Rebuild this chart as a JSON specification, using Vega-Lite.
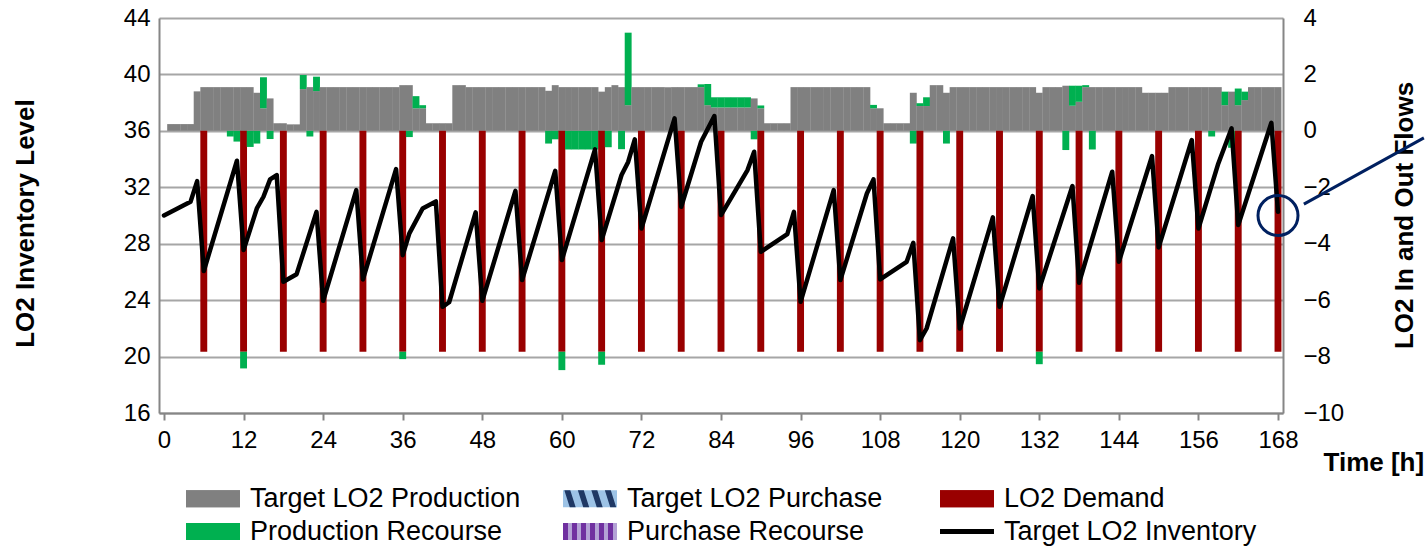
{
  "$schema": "https://vega.github.io/schema/vega-lite/v6.json",
  "width": 1124,
  "height": 395,
  "autosize": {"type": "none"},
  "padding": {"left": 159, "top": 18, "right": 142, "bottom": 134},
  "background": "white",
  "config": {
    "font": "Liberation Sans",
    "view": {"stroke": null},
    "axis": {
      "labelFont": "Liberation Sans", "titleFont": "Liberation Sans",
      "labelFontSize": 24, "titleFontSize": 26, "titleFontWeight": "bold",
      "labelColor": "#000000", "titleColor": "#000000",
      "domainColor": "#868686", "domainWidth": 2,
      "tickColor": "#868686", "tickWidth": 2,
      "gridColor": "#a6a6a6", "gridWidth": 2
    },
    "legend": {"labelFont": "Liberation Sans"}
  },
  "datasets": {
    "bars": [
      {"h":1,"prod":0.24},{"h":2,"prod":0.24},{"h":3,"prod":0.24},{"h":4,"prod":0.24},{"h":5,"prod":1.4},
      {"h":6,"prod":1.55,"dem":-7.83},{"h":7,"prod":1.55},{"h":8,"prod":1.55},{"h":9,"prod":1.55},
      {"h":10,"prod":1.55,"rec":-0.2},{"h":11,"prod":1.55,"rec":-0.38},{"h":12,"prod":1.55,"dem":-7.83,"rec":-0.59},
      {"h":13,"prod":1.55,"rec":-0.57},{"h":14,"prod":1.35,"rec":-0.45},{"h":15,"prod":0.8,"rec":1.1},
      {"h":16,"prod":1.15,"rec":-0.29},{"h":17,"prod":0.27},{"h":18,"prod":0.27,"dem":-7.83},
      {"h":19,"prod":0.23},{"h":20,"prod":0.23},{"h":21,"prod":1.48,"rec":0.5},{"h":22,"prod":1.55,"rec":-0.2},
      {"h":23,"prod":1.41,"rec":0.51},{"h":24,"prod":1.55,"dem":-7.83},
      {"h":25,"prod":1.55},{"h":26,"prod":1.55},{"h":27,"prod":1.55},{"h":28,"prod":1.55},{"h":29,"prod":1.55},
      {"h":30,"prod":1.55,"dem":-7.83},{"h":31,"prod":1.55},{"h":32,"prod":1.55},{"h":33,"prod":1.55},{"h":34,"prod":1.55},{"h":35,"prod":1.55},
      {"h":36,"prod":1.62,"dem":-7.83,"rec":-0.26},{"h":37,"prod":1.62,"rec":-0.22},{"h":38,"prod":0.8,"rec":0.43},
      {"h":39,"prod":0.8,"rec":0.11},{"h":40,"prod":0.27},{"h":41,"prod":0.27},{"h":42,"prod":0.27,"dem":-7.83},
      {"h":43,"prod":0.27},{"h":44,"prod":1.62},{"h":45,"prod":1.62},
      {"h":46,"prod":1.55},{"h":47,"prod":1.55},{"h":48,"prod":1.55,"dem":-7.83},{"h":49,"prod":1.55},{"h":50,"prod":1.55},
      {"h":51,"prod":1.55},{"h":52,"prod":1.55},{"h":53,"prod":1.55},{"h":54,"prod":1.55,"dem":-7.83},{"h":55,"prod":1.55},
      {"h":56,"prod":1.55},{"h":57,"prod":1.55},{"h":58,"prod":1.42,"rec":-0.45},{"h":59,"prod":1.62,"rec":-0.3},
      {"h":60,"prod":1.55,"dem":-7.83,"rec":-0.65},{"h":61,"prod":1.55,"rec":-0.66},{"h":62,"prod":1.55,"rec":-0.66},
      {"h":63,"prod":1.55,"rec":-0.66},{"h":64,"prod":1.55,"rec":-0.66},{"h":65,"prod":1.55,"rec":-0.66},
      {"h":66,"prod":1.39,"dem":-7.83,"rec":-0.46},{"h":67,"prod":1.55,"rec":-0.58},{"h":68,"prod":1.62},
      {"h":69,"prod":1.55,"rec":-0.65},{"h":70,"prod":0.91,"rec":2.57},
      {"h":71,"prod":1.55},{"h":72,"prod":1.55,"dem":-7.83},{"h":73,"prod":1.55},{"h":74,"prod":1.55},{"h":75,"prod":1.55},
      {"h":76,"prod":1.55},{"h":77,"prod":1.55},{"h":78,"prod":1.55,"dem":-7.83},{"h":79,"prod":1.55},{"h":80,"prod":1.55},
      {"h":81,"prod":1.55,"rec":0.1},{"h":82,"prod":0.91,"rec":0.75},{"h":83,"prod":0.83,"rec":0.36},
      {"h":84,"prod":0.83,"dem":-7.83,"rec":0.36},{"h":85,"prod":0.83,"rec":0.36},{"h":86,"prod":0.83,"rec":0.36},
      {"h":87,"prod":0.83,"rec":0.36},{"h":88,"prod":0.83,"rec":0.36},{"h":89,"prod":1.15,"rec":-0.3},
      {"h":90,"prod":0.8,"dem":-7.83,"rec":0.1},{"h":91,"prod":0.27},{"h":92,"prod":0.27},{"h":93,"prod":0.27},{"h":94,"prod":0.27},
      {"h":95,"prod":1.55},{"h":96,"prod":1.55,"dem":-7.83},{"h":97,"prod":1.55},{"h":98,"prod":1.55},{"h":99,"prod":1.55},
      {"h":100,"prod":1.55},{"h":101,"prod":1.55},{"h":102,"prod":1.55,"dem":-7.83},{"h":103,"prod":1.55},{"h":104,"prod":1.55},
      {"h":105,"prod":1.55},{"h":106,"prod":1.55},{"h":107,"prod":0.8,"rec":0.12},{"h":108,"prod":0.8,"dem":-7.83},
      {"h":109,"prod":0.27},{"h":110,"prod":0.27},{"h":111,"prod":0.27},{"h":112,"prod":0.27},
      {"h":113,"prod":1.35,"rec":-0.45},{"h":114,"prod":0.88,"dem":-7.83,"rec":0.1},{"h":115,"prod":0.88,"rec":0.31},
      {"h":116,"prod":1.62},{"h":117,"prod":1.62},{"h":118,"prod":1.35,"rec":-0.45},
      {"h":119,"prod":1.55},{"h":120,"prod":1.55,"dem":-7.83},{"h":121,"prod":1.55},{"h":122,"prod":1.55},{"h":123,"prod":1.55},
      {"h":124,"prod":1.55},{"h":125,"prod":1.55},{"h":126,"prod":1.55,"dem":-7.83},{"h":127,"prod":1.55},{"h":128,"prod":1.55},
      {"h":129,"prod":1.55},{"h":130,"prod":1.55},{"h":131,"prod":1.55},{"h":132,"prod":1.35,"dem":-7.83,"rec":-0.44},
      {"h":133,"prod":1.55},{"h":134,"prod":1.55},{"h":135,"prod":1.55},{"h":136,"prod":1.6,"rec":-0.68},
      {"h":137,"prod":0.89,"rec":0.71},{"h":138,"prod":1.03,"dem":-7.83,"rec":0.57},{"h":139,"prod":1.55,"rec":0.07},
      {"h":140,"prod":1.55,"rec":-0.66},{"h":141,"prod":1.55},{"h":142,"prod":1.55},{"h":143,"prod":1.55},
      {"h":144,"prod":1.55,"dem":-7.83},{"h":145,"prod":1.55},{"h":146,"prod":1.55},{"h":147,"prod":1.55},
      {"h":148,"prod":1.35},{"h":149,"prod":1.35},{"h":150,"prod":1.35,"dem":-7.83},{"h":151,"prod":1.35},
      {"h":152,"prod":1.55},{"h":153,"prod":1.55},{"h":154,"prod":1.55},{"h":155,"prod":1.55},
      {"h":156,"prod":1.55,"dem":-7.83},{"h":157,"prod":1.55},{"h":158,"prod":1.55,"rec":-0.2},{"h":159,"prod":1.55},
      {"h":160,"prod":0.91,"rec":0.48},{"h":161,"prod":1.39,"rec":-0.6},{"h":162,"prod":0.91,"dem":-7.83,"rec":0.59},
      {"h":163,"prod":1.09,"rec":0.3},{"h":164,"prod":1.55},{"h":165,"prod":1.55},{"h":166,"prod":1.55},{"h":167,"prod":1.55},
      {"h":168,"prod":1.55,"dem":-7.83}
    ],
    "inv": [
      {"h":0,"inv":30},{"h":4,"inv":30.97},{"h":5,"inv":32.44},{"h":6,"inv":26.06},{"h":11,"inv":33.88},{"h":12,"inv":27.55},
      {"h":14,"inv":30.5},{"h":15,"inv":31.33},{"h":16,"inv":32.56},{"h":17,"inv":32.87},{"h":18,"inv":25.3},{"h":20,"inv":25.84},
      {"h":23,"inv":30.26},{"h":24,"inv":23.95},{"h":29,"inv":31.8},{"h":30,"inv":25.47},{"h":35,"inv":33.29},{"h":36,"inv":27.19},
      {"h":37,"inv":28.73},{"h":39,"inv":30.5},{"h":41,"inv":31.0},{"h":42,"inv":23.53},{"h":43,"inv":23.85},{"h":47,"inv":30.22},
      {"h":48,"inv":23.95},{"h":53,"inv":31.75},{"h":54,"inv":25.42},{"h":59,"inv":33.17},{"h":60,"inv":26.84},{"h":65,"inv":34.69},
      {"h":66,"inv":28.26},{"h":69,"inv":32.87},{"h":70,"inv":33.8},{"h":71,"inv":35.4},{"h":72,"inv":29.08},{"h":77,"inv":36.89},
      {"h":78,"inv":30.62},{"h":81,"inv":35.23},{"h":83,"inv":37.05},{"h":84,"inv":30.03},{"h":88,"inv":33.22},{"h":89,"inv":34.52},
      {"h":90,"inv":27.43},{"h":94,"inv":28.68},{"h":95,"inv":30.26},{"h":96,"inv":23.88},{"h":101,"inv":31.8},{"h":102,"inv":25.42},
      {"h":106,"inv":31.56},{"h":107,"inv":32.56},{"h":108,"inv":25.47},{"h":112,"inv":26.72},{"h":113,"inv":28.06},{"h":114,"inv":21.16},
      {"h":115,"inv":21.99},{"h":119,"inv":28.38},{"h":120,"inv":21.99},{"h":125,"inv":29.87},{"h":126,"inv":23.53},{"h":131,"inv":31.38},
      {"h":132,"inv":24.83},{"h":137,"inv":32.09},{"h":138,"inv":25.23},{"h":143,"inv":33.1},{"h":144,"inv":26.72},{"h":149,"inv":34.21},
      {"h":150,"inv":27.74},{"h":155,"inv":35.35},{"h":156,"inv":29.08},{"h":159,"inv":33.69},{"h":161,"inv":36.18},{"h":162,"inv":29.32},
      {"h":167,"inv":36.57},{"h":168,"inv":30.26}
    ]
  },
  "resolve": {"scale": {"y": "independent", "color": "independent"}},
  "layer": [
    {
      "data": {"name": "bars"},
      "transform": [
        {"fold": ["prod", "dem", "rec"], "as": ["series", "value"]},
        {"filter": "isValid(datum.value)"},
        {"stack": "value", "groupby": ["h"], "as": ["v0", "v1"]}
      ],
      "mark": {"type": "bar", "width": 6.9, "clip": true},
      "encoding": {
        "x": {
          "field": "h", "type": "quantitative", "title": "Time [h]",
          "scale": {"domain": [0, 168], "nice": false, "zero": false},
          "axis": {
            "values": [0, 12, 24, 36, 48, 60, 72, 84, 96, 108, 120, 132, 144, 156, 168],
            "grid": false, "tickSize": 7, "labelPadding": 8,
            "titleX": 1164, "titleY": 57, "titleAlign": "left", "titleBaseline": "alphabetic", "titleAnchor": "start"
          }
        },
        "y": {
          "field": "v1", "type": "quantitative", "title": "LO2 In and Out Flows",
          "scale": {"domain": [-10, 4], "nice": false, "zero": false},
          "axis": {
            "orient": "right", "values": [-10, -8, -6, -4, -2, 0, 2, 4], "grid": false, "ticks": false,
            "labelPadding": 20, "titleAngle": -90, "titleX": 129, "titleY": 197,
            "titleBaseline": "alphabetic", "titleAlign": "center"
          }
        },
        "y2": {"field": "v0"},
        "color": {
          "field": "series", "type": "nominal",
          "scale": {"domain": ["prod", "dem", "rec"], "range": ["#808080", "#990000", "#00b050"]},
          "legend": null
        }
      }
    },
    {
      "mark": {"type": "rule", "color": "#000000", "strokeWidth": 3},
      "encoding": {
        "y": {"datum": 0, "type": "quantitative", "scale": {"domain": [-10, 4], "nice": false, "zero": false}, "axis": null}
      }
    },
    {
      "mark": {"type": "rule", "color": "#002060", "strokeWidth": 2.5, "strokeDash": [10, 5]},
      "encoding": {
        "y": {"datum": 30, "type": "quantitative", "scale": {"domain": [16, 44], "nice": false, "zero": false}, "axis": null}
      }
    },
    {
      "data": {"name": "inv"},
      "mark": {"type": "line", "color": "#000000", "strokeWidth": 4.5, "strokeJoin": "round", "strokeCap": "round"},
      "encoding": {
        "x": {"field": "h", "type": "quantitative", "title": "Time [h]"},
        "y": {
          "field": "inv", "type": "quantitative", "title": "LO2 Inventory Level",
          "scale": {"domain": [16, 44], "nice": false, "zero": false},
          "axis": {
            "orient": "left", "values": [16, 20, 24, 28, 32, 36, 40, 44], "grid": true, "ticks": false,
            "labelPadding": 9, "titleAngle": -90, "titleX": -126, "titleY": 205,
            "titleBaseline": "alphabetic", "titleAlign": "center"
          }
        }
      }
    },
    {
      "data": {"values": [{"h": 168, "v": 30}]},
      "mark": {"type": "point", "shape": "circle", "size": 1600, "filled": false, "stroke": "#002060", "strokeWidth": 3, "opacity": 1, "clip": false},
      "encoding": {
        "x": {"field": "h", "type": "quantitative", "title": "Time [h]"},
        "y": {"field": "v", "type": "quantitative", "scale": {"domain": [16, 44], "nice": false, "zero": false}, "axis": null}
      }
    },
    {
      "data": {"values": [{"h": 171.9, "v": 30.81}, {"h": 190, "v": 35.5}]},
      "mark": {"type": "line", "color": "#002060", "strokeWidth": 3, "clip": false},
      "encoding": {
        "x": {"field": "h", "type": "quantitative", "title": "Time [h]"},
        "y": {"field": "v", "type": "quantitative", "scale": {"domain": [16, 44], "nice": false, "zero": false}, "axis": null}
      }
    },
    {
      "data": {"values": []},
      "mark": {"type": "point", "filled": true, "opacity": 1},
      "encoding": {
        "color": {
          "field": "bg", "type": "nominal",
          "scale": {
            "domain": ["b_prod", "b_pur", "b_dem", "b_rec", "b_purrec", "b_inv"],
            "range": ["#808080", "#9dc3e6", "#990000", "#00b050", "#b4a2d6", "transparent"]
          },
          "legend": {
            "title": null, "orient": "none", "legendX": 27, "legendY": 461, "direction": "horizontal", "zindex": 1,
            "columns": 3, "gridAlign": "all", "columnPadding": 42, "rowPadding": 0, "padding": 0,
            "labelFontSize": 27, "labelOffset": 25, "labelLimit": 400, "labelColor": "#000000", "labelOpacity": 0,
            "symbolSize": 1521, "symbolType": "M-1,-0.436H1.769V0.436H-1Z", "symbolStrokeWidth": 0, "symbolOpacity": 1,
            "labelExpr": "datum.value == 'b_prod' ? 'Target LO2 Production' : datum.value == 'b_pur' ? 'Target LO2 Purchase' : datum.value == 'b_dem' ? 'LO2 Demand' : datum.value == 'b_rec' ? 'Production Recourse' : datum.value == 'b_purrec' ? 'Purchase Recourse' : 'Target LO2 Inventory'"
          }
        }
      }
    },
    {
      "data": {"values": []},
      "mark": {"type": "point", "filled": true, "opacity": 1},
      "encoding": {
        "fill": {
          "field": "key", "type": "nominal",
          "scale": {
            "domain": ["prod", "pur", "dem", "rec", "purrec", "inv"],
            "range": ["#808080", "#1f3864", "#990000", "#00b050", "#7030a0", "#000000"]
          },
          "legend": {
            "title": null, "orient": "none", "legendX": 27, "legendY": 461, "direction": "horizontal", "zindex": 2,
            "columns": 3, "gridAlign": "all", "columnPadding": 42, "rowPadding": 0, "padding": 0,
            "labelFontSize": 27, "labelOffset": 25, "labelLimit": 400, "labelColor": "#000000",
            "symbolSize": 1521, "symbolStrokeWidth": 0, "symbolOpacity": 1,
            "labelExpr": "datum.value == 'prod' ? 'Target LO2 Production' : datum.value == 'pur' ? 'Target LO2 Purchase' : datum.value == 'dem' ? 'LO2 Demand' : datum.value == 'rec' ? 'Production Recourse' : datum.value == 'purrec' ? 'Purchase Recourse' : 'Target LO2 Inventory'"
          }
        },
        "shape": {
          "field": "key", "type": "nominal",
          "scale": {
            "domain": ["prod", "pur", "dem", "rec", "purrec", "inv"],
            "range": [
              "M-1,-0.436H1.769V0.436H-1Z",
              "M-0.9308,-0.436L-0.6262,-0.436L-0.3492,0.436L-0.6538,0.436ZM-0.2385,-0.436L0.0662,-0.436L0.3431,0.436L0.0385,0.436ZM0.4538,-0.436L0.7585,-0.436L1.0354,0.436L0.7308,0.436ZM1.1462,-0.436L1.4508,-0.436L1.7277,0.436L1.4231,0.436Z",
              "M-1,-0.436H1.769V0.436H-1Z",
              "M-1,-0.436H1.769V0.436H-1Z",
              "M-1,-0.436H-0.7438V0.436H-1ZM-0.5389,-0.436H-0.2828V0.436H-0.5389ZM-0.0765,-0.436H0.1797V0.436H-0.0765ZM0.3846,-0.436H0.6408V0.436H0.3846ZM0.8457,-0.436H1.1018V0.436H0.8457ZM1.3081,-0.436H1.5643V0.436H1.3081Z",
              "M-1,-0.125H1.769V0.125H-1Z"
            ]
          },
          "legend": {
            "title": null, "orient": "none", "legendX": 27, "legendY": 461, "direction": "horizontal", "zindex": 2,
            "columns": 3, "gridAlign": "all", "columnPadding": 42, "rowPadding": 0, "padding": 0,
            "labelFontSize": 27, "labelOffset": 25, "labelLimit": 400, "labelColor": "#000000",
            "symbolSize": 1521, "symbolStrokeWidth": 0, "symbolOpacity": 1,
            "labelExpr": "datum.value == 'prod' ? 'Target LO2 Production' : datum.value == 'pur' ? 'Target LO2 Purchase' : datum.value == 'dem' ? 'LO2 Demand' : datum.value == 'rec' ? 'Production Recourse' : datum.value == 'purrec' ? 'Purchase Recourse' : 'Target LO2 Inventory'"
          }
        }
      }
    }
  ]
}
